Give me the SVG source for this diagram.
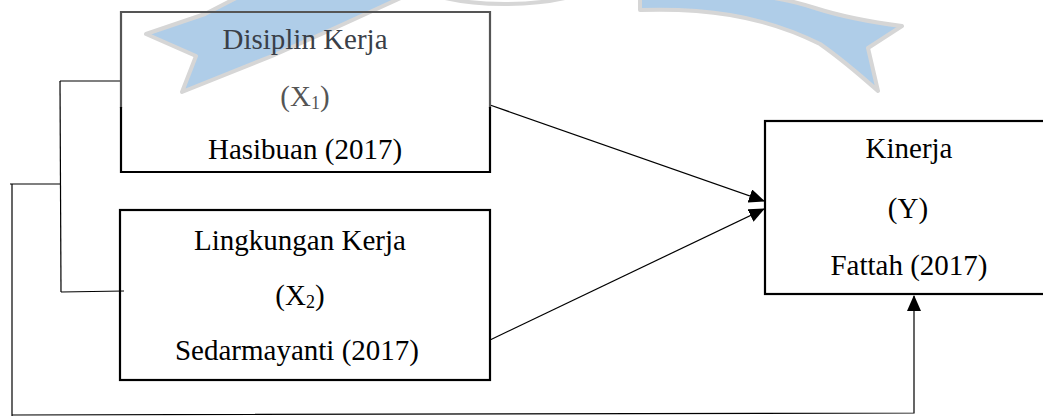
<svg xmlns="http://www.w3.org/2000/svg" width="1043" height="418" viewBox="0 0 1043 418">
  <defs>
    <style>
      .box { fill: none; stroke: #000; stroke-width: 2.2; }
      .lbl { font-family: "Liberation Serif", "Times New Roman", serif; font-size: 29px; fill: #000; text-anchor: middle; }
      .sub { font-size: 18px; }
      .conn { fill: none; stroke: #000; stroke-width: 1.2; }
      .wm { fill: #afcde8; stroke: #d6d6d6; stroke-width: 4; stroke-linejoin: round; }
    </style>
    <marker id="arr" markerUnits="userSpaceOnUse" markerWidth="16" markerHeight="14" refX="15" refY="7" orient="auto">
      <path d="M0,0 L16,7 L0,14 Z" fill="#000"/>
    </marker>
  </defs>
  <rect width="1043" height="418" fill="#fff"/>

  <g id="watermark">
    <path class="wm" d="M146,34 L205,14 L240,-4 L405,-4 L335,28 L272,56 L182,92 L196,56 Z"/>
    <path class="wm" d="M640,-4 L640,10 C700,8 760,14 820,44 C840,58 860,75 878,91 L868,48 L902,26 C870,22 840,16 815,8 C790,0 770,-4 750,-4 Z"/>
    <path d="M445,-2 C480,6 530,6 565,-2" fill="none" stroke="#d6d6d6" stroke-width="4"/>
  </g>

  <g id="connectors">
    <path class="conn" d="M10,184 L60,184"/>
    <path class="conn" d="M12,184 L12,416"/>
    <path class="conn" d="M60,81 L121,81"/>
    <path class="conn" d="M60,81 L61,292"/>
    <path class="conn" d="M61,292 L124,291"/>
    <path class="conn" d="M12,415 L914,413 L914,296" marker-end="url(#arr)"/>
    <path class="conn" d="M490,105 L764,201" marker-end="url(#arr)"/>
    <path class="conn" d="M490,340 L764,209" marker-end="url(#arr)"/>
  </g>

  <g id="node-x1">
    <path d="M121,108 L121,12 L490,12 L490,108" fill="none" stroke="#555" stroke-width="2.2"/>
    <path d="M121,107 L121,172 L490,172 L490,107" class="box"/>
    <text class="lbl" x="305" y="49" style="fill:#3a3f48">Disiplin Kerja</text>
    <text class="lbl" x="305" y="106" style="fill:#555">(X<tspan class="sub" dy="3">1</tspan><tspan dy="-3">)</tspan></text>
    <text class="lbl" x="305" y="159">Hasibuan (2017)</text>
  </g>

  <g id="node-x2">
    <rect class="box" x="120" y="210" width="370" height="170"/>
    <text class="lbl" x="300" y="250">Lingkungan Kerja</text>
    <text class="lbl" x="300" y="305">(X<tspan class="sub" dy="3">2</tspan><tspan dy="-3">)</tspan></text>
    <text class="lbl" x="297" y="360">Sedarmayanti (2017)</text>
  </g>

  <g id="node-y">
    <rect class="box" x="765" y="121" width="300" height="173"/>
    <text class="lbl" x="909" y="158">Kinerja</text>
    <text class="lbl" x="908" y="218">(Y)</text>
    <text class="lbl" x="909" y="275">Fattah (2017)</text>
  </g>
</svg>
